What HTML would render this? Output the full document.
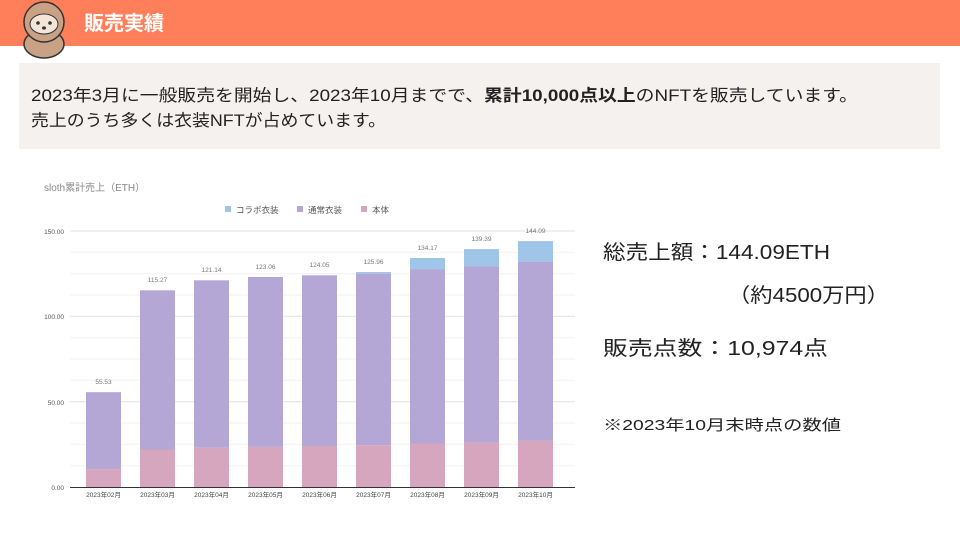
<!DOCTYPE html>
<html><head><meta charset="utf-8"><style>
body{margin:0;width:960px;height:540px;overflow:hidden;background:#fff;font-family:"Liberation Sans","Noto Sans CJK JP",sans-serif;}
</style></head><body>
<svg width="960" height="540" xmlns="http://www.w3.org/2000/svg" style="font-family:'Liberation Sans','Noto Sans CJK JP',sans-serif">
<rect x="0" y="0" width="960" height="46" fill="#fe7f5a"/>
<g>
<ellipse cx="44" cy="44" rx="20" ry="14" fill="#c9a184" stroke="#333" stroke-width="1.5"/>
<circle cx="44" cy="22" r="20" fill="#c9a184" stroke="#333" stroke-width="1.5"/>
<ellipse cx="44" cy="24" rx="14" ry="10" fill="#f3e6d9" stroke="#333" stroke-width="1"/>
<circle cx="38" cy="23" r="1.8" fill="#333"/><circle cx="50" cy="23" r="1.8" fill="#333"/>
<ellipse cx="44" cy="28" rx="2" ry="1.6" fill="#333"/>
</g>
<text x="84" y="30" font-size="20" font-weight="bold" fill="#fff">販売実績</text>
<rect x="19" y="63" width="921" height="86" fill="#f5f1ee"/>
<text x="31" y="101" font-size="16.5" fill="#222" textLength="827" lengthAdjust="spacingAndGlyphs">2023年3月に一般販売を開始し、2023年10月までで、<tspan font-weight="bold">累計10,000点以上</tspan>のNFTを販売しています。</text>
<text x="31" y="126" font-size="16.5" fill="#222" textLength="355" lengthAdjust="spacingAndGlyphs">売上のうち多くは衣装NFTが占めています。</text>
<text x="44" y="191" font-size="10" fill="#888">sloth累計売上（ETH）</text>
<g font-size="8.5" fill="#555">
<rect x="225" y="206" width="6" height="6" fill="#9fc5e8"/><text x="236" y="213">コラボ衣装</text>
<rect x="297" y="206" width="6" height="6" fill="#b4a7d6"/><text x="308" y="213">通常衣装</text>
<rect x="361" y="206" width="6" height="6" fill="#d5a6bd"/><text x="372" y="213">本体</text>
</g>
<g stroke="#f2f2f2" stroke-width="1">
<line x1="70" x2="575" y1="252.3" y2="252.3"/><line x1="70" x2="575" y1="273.7" y2="273.7"/><line x1="70" x2="575" y1="295" y2="295"/>
<line x1="70" x2="575" y1="337.7" y2="337.7"/><line x1="70" x2="575" y1="359" y2="359"/><line x1="70" x2="575" y1="380.3" y2="380.3"/>
<line x1="70" x2="575" y1="423" y2="423"/><line x1="70" x2="575" y1="444.3" y2="444.3"/><line x1="70" x2="575" y1="465.7" y2="465.7"/>
</g>
<g stroke="#e2e2e2" stroke-width="1">
<line x1="70" x2="575" y1="231" y2="231"/><line x1="70" x2="575" y1="316.3" y2="316.3"/><line x1="70" x2="575" y1="401.7" y2="401.7"/>
</g>
<line x1="70" x2="575" y1="487.5" y2="487.5" stroke="#333" stroke-width="1"/>
<g font-size="6.5" fill="#555" text-anchor="end">
<text x="64" y="234">150.00</text><text x="64" y="319">100.00</text><text x="64" y="405">50.00</text><text x="64" y="490">0.00</text>
</g>
<g>
<rect x="86" y="392.2" width="35" height="76.9" fill="#b4a7d6"/><rect x="86" y="469.1" width="35" height="17.9" fill="#d5a6bd"/>
<rect x="140" y="290.3" width="35" height="159.2" fill="#b4a7d6"/><rect x="140" y="449.5" width="35" height="37.5" fill="#d5a6bd"/>
<rect x="194" y="280.3" width="35" height="167.4" fill="#b4a7d6"/><rect x="194" y="447.7" width="35" height="39.3" fill="#d5a6bd"/>
<rect x="248" y="277" width="35" height="169.9" fill="#b4a7d6"/><rect x="248" y="446.9" width="35" height="40.1" fill="#d5a6bd"/>
<rect x="302" y="275.3" width="35" height="170.7" fill="#b4a7d6"/><rect x="302" y="446" width="35" height="41" fill="#d5a6bd"/>
<rect x="356" y="272" width="35" height="1.7" fill="#9fc5e8"/><rect x="356" y="273.7" width="35" height="171.5" fill="#b4a7d6"/><rect x="356" y="445.2" width="35" height="41.8" fill="#d5a6bd"/>
<rect x="410" y="258" width="35" height="11.1" fill="#9fc5e8"/><rect x="410" y="269.1" width="35" height="174.4" fill="#b4a7d6"/><rect x="410" y="443.5" width="35" height="43.5" fill="#d5a6bd"/>
<rect x="464" y="249.1" width="35" height="17.1" fill="#9fc5e8"/><rect x="464" y="266.2" width="35" height="176.4" fill="#b4a7d6"/><rect x="464" y="442.6" width="35" height="44.4" fill="#d5a6bd"/>
<rect x="518" y="241.1" width="35" height="20.5" fill="#9fc5e8"/><rect x="518" y="261.6" width="35" height="179.3" fill="#b4a7d6"/><rect x="518" y="440.9" width="35" height="46.1" fill="#d5a6bd"/>
</g>
<g font-size="6.5" fill="#777" text-anchor="middle">
<text x="103.5" y="384">55.53</text><text x="157.5" y="282">115.27</text><text x="211.5" y="272">121.14</text><text x="265.5" y="269">123.06</text><text x="319.5" y="267">124.05</text><text x="373.5" y="264">125.96</text><text x="427.5" y="250">134.17</text><text x="481.5" y="241">139.39</text><text x="535.5" y="233">144.09</text>
</g>
<g font-size="6.5" fill="#444" text-anchor="middle">
<text x="103.5" y="497">2023年02月</text><text x="157.5" y="497">2023年03月</text><text x="211.5" y="497">2023年04月</text><text x="265.5" y="497">2023年05月</text><text x="319.5" y="497">2023年06月</text><text x="373.5" y="497">2023年07月</text><text x="427.5" y="497">2023年08月</text><text x="481.5" y="497">2023年09月</text><text x="535.5" y="497">2023年10月</text>
</g>
<g fill="#222">
<text x="603" y="259" font-size="20" textLength="227" lengthAdjust="spacingAndGlyphs">総売上額：144.09ETH</text>
<text x="728" y="302" font-size="20" textLength="161" lengthAdjust="spacingAndGlyphs">（約4500万円）</text>
<text x="603" y="355" font-size="20" textLength="225" lengthAdjust="spacingAndGlyphs">販売点数：10,974点</text>
<text x="603" y="430" font-size="15" textLength="238" lengthAdjust="spacingAndGlyphs">※2023年10月末時点の数値</text>
</g>
</svg>
</body></html>
